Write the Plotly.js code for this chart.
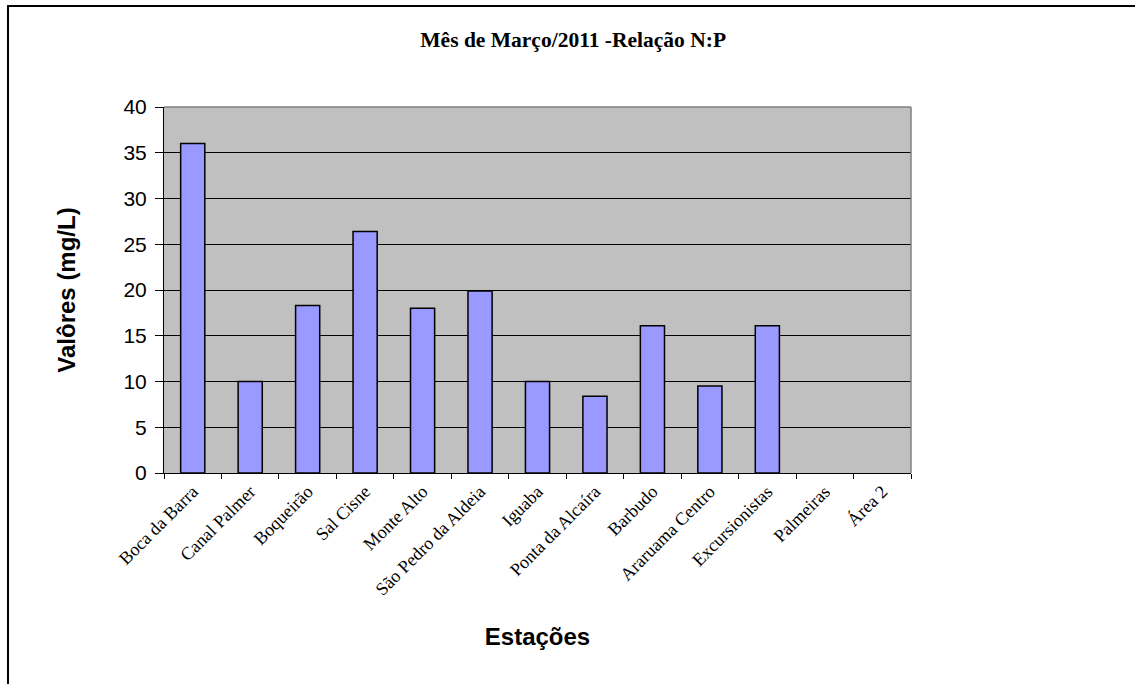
<!DOCTYPE html>
<html>
<head>
<meta charset="utf-8">
<script src="https://cdn.plot.ly/plotly-3.0.1.min.js"></script>
<style>
html,body{margin:0;padding:0;background:#fff;overflow:hidden;}
#frame{position:absolute;left:7px;top:5px;width:2000px;height:2000px;border-top:2px solid #000;border-left:2px solid #000;pointer-events:none;}
#chart{width:1135px;height:684px;}
</style>
</head>
<body>
<div id="chart"></div>
<div id="frame"></div>
<script>
const stations = ["Boca da Barra","Canal Palmer","Boqueirão","Sal Cisne","Monte Alto","São Pedro da Aldeia","Iguaba","Ponta da Alcaíra","Barbudo","Araruama Centro","Excursionistas","Palmeiras","Área 2"];
const values = [36, 10, 18.3, 26.4, 18, 19.9, 10, 8.4, 16.1, 9.5, 16.1, null, null];
const yTicks = [0,5,10,15,20,25,30,35,40];
const titleText = "Mês de Março/2011 -Relação N:P";
const xTitle = "Estações";
const yTitle = "Valôres (mg/L)";

const trace = {
  type: 'bar',
  x: stations,
  y: values,
  marker: {color: '#9999FF', line: {color: '#000', width: 1.5}},
  width: 0.42,
  hoverinfo: 'x+y'
};

const layout = {
  width: 1135, height: 684,
  paper_bgcolor: '#fff',
  plot_bgcolor: '#C0C0C0',
  margin: {l: 164, r: 224, t: 107, b: 211},
  showlegend: false,
  title: {text: '<b>' + titleText + '</b>', x: 0.505, xref: 'container', xanchor: 'center', y: 0.942, yref: 'container', yanchor: 'middle',
          font: {family: 'Liberation Serif, Times New Roman, serif', size: 21.5, color: '#000'}},
  xaxis: {
    type: 'category',
    tickangle: -45,
    tickfont: {family: 'Liberation Serif, Times New Roman, serif', size: 18, color: '#000'},
    ticks: 'outside', ticklen: 5, tickcolor: '#000', tickson: 'boundaries',
    showline: true, linecolor: '#000', linewidth: 1,
    showgrid: false, zeroline: false,
    range: [-0.5, 12.5],
    automargin: false,
    title: {text: '<b>' + xTitle + '</b>', standoff: 29, font: {family: 'Liberation Sans, Arial, sans-serif', size: 24, color: '#000'}}
  },
  yaxis: {
    range: [0, 40],
    tickvals: yTicks,
    tickfont: {family: 'Liberation Sans, Arial, sans-serif', size: 21, color: '#000'},
    ticks: 'outside', ticklen: 8, tickcolor: '#000',
    showline: true, linecolor: '#000', linewidth: 1,
    showgrid: true, gridcolor: '#000', gridwidth: 1,
    zeroline: false,
    automargin: false,
    ticklabelstandoff: 4,
    title: {text: '<b>' + yTitle + '</b>', standoff: 41, font: {family: 'Liberation Sans, Arial, sans-serif', size: 24, color: '#000'}}
  },
  shapes: [
    {type: 'line', xref: 'paper', yref: 'paper', x0: 0, x1: 1, y0: 1, y1: 1, line: {color: '#808080', width: 1.5}},
    {type: 'line', xref: 'paper', yref: 'paper', x0: 1, x1: 1, y0: 0, y1: 1, line: {color: '#808080', width: 1.5}}
  ]
};

Plotly.newPlot('chart', [trace], layout, {displayModeBar: false, staticPlot: true});
</script>
</body>
</html>
